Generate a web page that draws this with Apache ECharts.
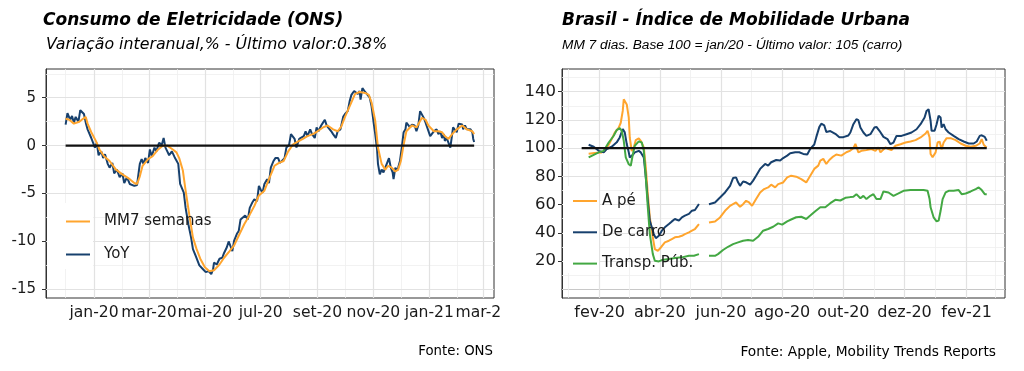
<!DOCTYPE html>
<html><head><meta charset="utf-8">
<script src="https://cdn.jsdelivr.net/npm/echarts@6/dist/echarts.min.js"></script>
<style>
html,body{margin:0;padding:0;background:#fff;width:1024px;height:371px;overflow:hidden}
#Lw{position:absolute;left:0;top:0;width:502px;height:371px;overflow:hidden}
#L{position:absolute;left:0;top:0;width:530px;height:371px}
#R{position:absolute;left:502px;top:0;width:522px;height:371px}
</style>
</head><body><div id="Lw"><div id="L"></div></div><div id="R"></div>
<script>
// ---------- DATA ----------
const monthNames = ['jan','fev','mar','abr','mai','jun','jul','ago','set','out','nov','dez'];

// Left: Consumo de Eletricidade (ONS), variação interanual %
const leftYoY = [
['2019-12-01',2.2],['2019-12-03',3.4],['2019-12-06',2.7],['2019-12-08',3.1],['2019-12-10',2.4],['2019-12-12',3.0],
['2019-12-15',2.5],['2019-12-17',3.7],['2019-12-19',3.8],['2019-12-21',3.3],['2019-12-23',2.4],['2019-12-25',1.7],
['2019-12-27',1.5],['2019-12-29',0.8],['2019-12-31',1.0],['2020-01-02',-0.2],['2020-01-04',0.3],['2020-01-06',-1.0],
['2020-01-09',-0.6],['2020-01-11',-1.3],['2020-01-13',-0.9],['2020-01-16',-1.9],['2020-01-18',-2.3],['2020-01-21',-1.8],
['2020-01-23',-2.9],['2020-01-26',-2.5],['2020-01-29',-3.3],['2020-02-01',-2.9],['2020-02-03',-3.9],['2020-02-06',-3.3],
['2020-02-09',-4.0],['2020-02-11',-3.9],['2020-02-14',-4.2],['2020-02-17',-4.1],['2020-02-19',-2.6],['2020-02-20',-1.9],
['2020-02-22',-1.4],['2020-02-24',-1.9],['2020-02-26',-1.3],['2020-02-29',-1.8],['2020-03-02',-0.4],['2020-03-04',-1.1],
['2020-03-07',-0.2],['2020-03-09',-0.6],['2020-03-12',0.3],['2020-03-15',0.1],['2020-03-17',0.8],['2020-03-19',-0.2],
['2020-03-21',-0.6],['2020-03-23',-1.0],['2020-03-26',-0.6],['2020-03-29',-1.2],['2020-03-31',-1.0],['2020-04-02',-1.9],
['2020-04-04',-4.0],['2020-04-06',-3.9],['2020-04-08',-4.9],['2020-04-10',-6.5],['2020-04-13',-8.2],['2020-04-16',-9.6],
['2020-04-18',-10.8],['2020-04-21',-11.5],['2020-04-25',-12.5],['2020-04-29',-12.9],['2020-05-02',-13.2],['2020-05-05',-13.1],
['2020-05-08',-13.4],['2020-05-10',-12.9],['2020-05-11',-12.2],['2020-05-14',-12.4],['2020-05-17',-11.8],['2020-05-20',-11.7],
['2020-05-22',-11.2],['2020-05-25',-10.6],['2020-05-27',-10.0],['2020-05-29',-10.5],['2020-05-31',-11.0],['2020-06-02',-9.9],
['2020-06-05',-9.2],['2020-06-07',-8.9],['2020-06-09',-7.7],['2020-06-11',-7.9],['2020-06-14',-7.3],['2020-06-17',-7.7],
['2020-06-19',-6.5],['2020-06-22',-5.9],['2020-06-24',-5.6],['2020-06-27',-5.8],['2020-06-29',-4.2],['2020-07-01',-4.6],
['2020-07-03',-4.9],['2020-07-05',-4.0],['2020-07-08',-3.5],['2020-07-10',-3.9],['2020-07-12',-2.3],['2020-07-15',-1.6],
['2020-07-17',-1.3],['2020-07-20',-1.3],['2020-07-22',-1.8],['2020-07-24',-1.8],['2020-07-27',-1.3],['2020-07-29',-0.2],
['2020-08-01',0.1],['2020-08-03',1.2],['2020-08-05',1.4],['2020-08-07',0.7],['2020-08-09',-0.2],['2020-08-12',0.7],
['2020-08-14',0.5],['2020-08-17',1.0],['2020-08-19',1.5],['2020-08-21',1.0],['2020-08-24',1.7],['2020-08-26',1.2],
['2020-08-29',0.8],['2020-08-31',1.9],['2020-09-02',1.5],['2020-09-05',2.1],['2020-09-07',2.4],['2020-09-09',2.7],
['2020-09-11',2.1],['2020-09-13',1.9],['2020-09-16',1.5],['2020-09-18',1.2],['2020-09-21',0.8],['2020-09-23',1.5],
['2020-09-26',1.7],['2020-09-29',3.0],['2020-10-01',3.3],['2020-10-04',3.6],['2020-10-06',4.6],['2020-10-08',5.3],
['2020-10-11',5.7],['2020-10-13',5.9],['2020-10-15',5.4],['2020-10-17',5.7],['2020-10-18',4.8],['2020-10-20',6.0],
['2020-10-23',5.6],['2020-10-25',5.5],['2020-10-28',5.0],['2020-10-30',4.1],['2020-11-01',2.6],['2020-11-03',1.2],
['2020-11-05',-0.4],['2020-11-06',-1.9],['2020-11-08',-3.0],['2020-11-10',-2.5],['2020-11-12',-2.8],['2020-11-14',-2.3],
['2020-11-16',-2.1],['2020-11-18',-1.3],['2020-11-20',-2.3],['2020-11-22',-2.8],['2020-11-23',-3.5],['2020-11-25',-2.3],
['2020-11-27',-2.6],['2020-11-28',-2.3],['2020-11-30',-1.6],['2020-12-02',-0.2],['2020-12-04',1.4],['2020-12-06',1.7],
['2020-12-07',2.4],['2020-12-09',2.6],['2020-12-11',1.9],['2020-12-13',2.2],['2020-12-16',2.1],['2020-12-18',1.5],
['2020-12-20',2.1],['2020-12-22',3.6],['2020-12-24',3.8],['2020-12-26',2.9],['2020-12-28',2.4],['2020-12-29',2.1],
['2020-12-31',2.2],['2021-01-02',1.0],['2021-01-04',0.8],['2021-01-06',1.5],['2021-01-07',1.4],['2021-01-09',1.7],
['2021-01-11',1.2],['2021-01-13',1.5],['2021-01-15',0.8],['2021-01-17',1.2],['2021-01-18',0.5],['2021-01-20',0.8],
['2021-01-22',0.3],['2021-01-24',-0.2],['2021-01-26',1.2],['2021-01-27',1.9],['2021-01-29',1.7],['2021-01-31',1.4],
['2021-02-02',2.3],['2021-02-04',2.1],['2021-02-06',2.2],['2021-02-07',1.7],['2021-02-09',2.1],['2021-02-11',1.7],
['2021-02-13',1.5],['2021-02-15',1.7],['2021-02-17',1.4],['2021-02-18',0.7],['2021-02-19',0.38]
];
const leftMM7 = [
['2019-12-01',2.8],['2019-12-05',2.7],['2019-12-10',2.3],['2019-12-16',2.5],['2019-12-20',2.8],['2019-12-23',3.0],
['2019-12-25',2.3],['2019-12-29',1.4],['2020-01-03',0.5],['2020-01-07',-0.4],['2020-01-12',-1.1],['2020-01-18',-1.6],
['2020-01-25',-2.5],['2020-02-01',-3.0],['2020-02-09',-3.5],['2020-02-14',-3.9],['2020-02-17',-4.0],['2020-02-20',-3.2],
['2020-02-23',-2.1],['2020-02-29',-1.4],['2020-03-05',-1.1],['2020-03-11',-0.4],['2020-03-16',0.0],['2020-03-21',0.0],
['2020-03-27',-0.4],['2020-03-31',-0.7],['2020-04-03',-1.3],['2020-04-07',-2.6],['2020-04-10',-4.7],['2020-04-14',-7.2],
['2020-04-18',-9.6],['2020-04-22',-10.8],['2020-04-26',-11.8],['2020-05-01',-12.7],['2020-05-06',-13.1],['2020-05-11',-13.0],
['2020-05-17',-12.4],['2020-05-22',-11.7],['2020-05-28',-11.0],['2020-06-02',-10.4],['2020-06-08',-9.2],['2020-06-13',-8.2],
['2020-06-19',-7.2],['2020-06-24',-6.3],['2020-06-29',-5.2],['2020-07-05',-4.7],['2020-07-10',-3.5],['2020-07-16',-2.1],
['2020-07-21',-1.8],['2020-07-26',-1.6],['2020-07-31',-0.6],['2020-08-05',0.1],['2020-08-10',0.4],['2020-08-16',0.7],
['2020-08-21',1.0],['2020-08-27',1.2],['2020-09-01',1.5],['2020-09-07',1.9],['2020-09-12',2.1],['2020-09-18',1.7],
['2020-09-23',1.5],['2020-09-27',2.0],['2020-10-01',3.0],['2020-10-07',4.3],['2020-10-12',5.4],['2020-10-17',5.6],
['2020-10-23',5.5],['2020-10-27',5.3],['2020-10-30',4.5],['2020-11-03',2.6],['2020-11-06',-0.2],['2020-11-10',-1.9],
['2020-11-14',-2.5],['2020-11-17',-2.1],['2020-11-21',-2.3],['2020-11-25',-2.7],['2020-11-28',-2.5],['2020-12-01',-1.6],
['2020-12-04',0.1],['2020-12-07',1.5],['2020-12-13',2.1],['2020-12-18',1.9],['2020-12-24',2.9],['2020-12-28',2.7],
['2020-12-31',2.1],['2021-01-06',1.5],['2021-01-11',1.5],['2021-01-15',1.4],['2021-01-18',1.0],['2021-01-22',0.7],
['2021-01-26',1.2],['2021-01-31',1.7],['2021-02-06',2.1],['2021-02-11',1.7],['2021-02-17',1.5],['2021-02-19',1.2]
];
const leftRef = [['2019-12-01',0],['2021-02-19',0]];
const leftXTicks = ['2020-01-01','2020-03-01','2020-05-01','2020-07-01','2020-09-01','2020-11-01','2021-01-01','2021-03-01'];
const leftXMinor = ['2019-12-01','2020-02-01','2020-04-01','2020-06-01','2020-08-01','2020-10-01','2020-12-01','2021-02-01'];
const leftYTicks = [-15,-10,-5,0,5];
const leftYMinor = [-12.5,-7.5,-2.5,2.5,7.5];

// Right: Brasil - Índice de Mobilidade Urbana (Apple), MM 7 dias
const rightApe = [
['2020-01-21',96],['2020-01-27',96.5],['2020-02-03',97],['2020-02-06',98],['2020-02-10',102.4],['2020-02-13',106.4],
['2020-02-16',111],['2020-02-20',114.6],['2020-02-22',118],['2020-02-24',126.4],['2020-02-25',134.6],['2020-02-26',135.8],
['2020-02-28',131],['2020-03-01',121.6],['2020-03-02',107.4],['2020-03-04',98],['2020-03-06',100.5],['2020-03-08',105.7],
['2020-03-11',107],['2020-03-13',105.2],['2020-03-16',100.5],['2020-03-18',86.3],['2020-03-20',67.4],['2020-03-22',50.9],
['2020-03-25',36.7],['2020-03-27',28.4],['2020-03-30',27.2],['2020-04-02',29.6],['2020-04-06',33.2],['2020-04-10',34.4],
['2020-04-13',35.6],['2020-04-16',36.8],['2020-04-20',37.2],['2020-04-23',37.9],['2020-04-26',39.1],['2020-04-30',40.3],
['2020-05-03',41.5],['2020-05-06',42.7],['2020-05-10',46.2],['2020-05-15','-'],
['2020-05-20',47.3],['2020-05-26',48],['2020-05-31',50.9],['2020-06-05',55.6],['2020-06-10',59.1],['2020-06-13',60.3],
['2020-06-16',61.5],['2020-06-20',58.4],['2020-06-23',60.3],['2020-06-26',62.7],['2020-06-29',61.5],['2020-07-02',59.1],
['2020-07-06',63.9],['2020-07-10',68.6],['2020-07-14',71],['2020-07-18',72.2],['2020-07-21',74.1],['2020-07-25',72.2],
['2020-07-28',74.5],['2020-08-02',75.7],['2020-08-06',79.3],['2020-08-10',80.5],['2020-08-15',79.8],['2020-08-20',78.1],
['2020-08-25',75.7],['2020-08-29',80.5],['2020-09-02',85.3],['2020-09-06',87.6],['2020-09-08',91.2],['2020-09-11',92.4],
['2020-09-14',88.8],['2020-09-17',91.6],['2020-09-20',93.6],['2020-09-24',95.5],['2020-09-29',94.7],['2020-10-04',97.1],
['2020-10-08',98.3],['2020-10-11',100],['2020-10-13',103],['2020-10-16',97],['2020-10-19',98.1],['2020-10-24',98.6],
['2020-10-29',99.3],['2020-11-02',98.1],['2020-11-05',100.5],['2020-11-07',97],['2020-11-12',100.5],['2020-11-15',99.3],
['2020-11-18',98.6],['2020-11-22',101.7],['2020-11-27',102.8],['2020-12-02',104],['2020-12-07',104.7],['2020-12-12',105.7],
['2020-12-17',107.6],['2020-12-22',110.4],['2020-12-24',112.3],['2020-12-26',107.6],['2020-12-27',95.9],['2020-12-29',93.6],
['2021-01-01',97],['2021-01-03',104],['2021-01-05',104.7],['2021-01-07',99.3],['2021-01-09',104],['2021-01-12',107.1],
['2021-01-16',107.1],['2021-01-21',105.7],['2021-01-26',103.3],['2021-01-31',101.7],['2021-02-05',101],['2021-02-10',101.7],
['2021-02-14',103.3],['2021-02-16',106.4],['2021-02-18',102.4],['2021-02-20',101],['2021-02-21',100.5]
];
const rightCarro = [
['2020-01-21',102.4],['2020-01-26',101],['2020-01-31',98.1],['2020-02-05',97],['2020-02-08',99.4],['2020-02-13',101],
['2020-02-18',104.1],['2020-02-21',107.6],['2020-02-24',113.5],['2020-02-26',111.2],['2020-02-28',102.9],['2020-03-01',97],
['2020-03-02',93.4],['2020-03-05',95.3],['2020-03-07',97],['2020-03-11',98.1],['2020-03-13',97],['2020-03-16',93.4],
['2020-03-18',79.3],['2020-03-20',62.7],['2020-03-22',48.5],['2020-03-26',39.1],['2020-03-28',36.2],['2020-03-31',37.9],
['2020-04-03',41.5],['2020-04-06',43.9],['2020-04-10',46.2],['2020-04-13',48.1],['2020-04-16',49.8],['2020-04-20',48.6],
['2020-04-23',51],['2020-04-26',52.2],['2020-04-30',53.4],['2020-05-03',55.7],['2020-05-06',56.2],['2020-05-10',60.4],
['2020-05-15','-'],
['2020-05-20',60.3],['2020-05-26',61.5],['2020-05-31',65],['2020-06-05',68.6],['2020-06-10',73.3],['2020-06-13',78.8],
['2020-06-16',79.3],['2020-06-18',75.8],['2020-06-20',73.3],['2020-06-23',76.4],['2020-06-26',75.8],['2020-06-30',74.1],
['2020-07-03',77],['2020-07-06',80.5],['2020-07-10',85.3],['2020-07-15',88.8],['2020-07-18',87.6],['2020-07-21',90],
['2020-07-26',91.6],['2020-07-30',91.2],['2020-08-02',93],['2020-08-06',94.7],['2020-08-09',96.4],['2020-08-14',97.1],
['2020-08-18',97.1],['2020-08-22',95.9],['2020-08-26',95.5],['2020-08-29',99.5],['2020-09-02',102.6],['2020-09-04',107.8],
['2020-09-07',114.9],['2020-09-09',117.3],['2020-09-12',116.1],['2020-09-14',111.4],['2020-09-18',112.1],['2020-09-23',110.2],
['2020-09-27',107.8],['2020-10-01',107.8],['2020-10-06',109],['2020-10-08',111.1],['2020-10-11',117],['2020-10-14',120.5],
['2020-10-16',119.8],['2020-10-18',114.6],['2020-10-21',111.1],['2020-10-24',108.7],['2020-10-28',109.9],['2020-11-01',114.6],
['2020-11-03',115.1],['2020-11-06',112.3],['2020-11-10',108],['2020-11-14',106.4],['2020-11-17',102.8],['2020-11-20',104],
['2020-11-23',108.7],['2020-11-28',108.7],['2020-12-03',109.9],['2020-12-08',111.1],['2020-12-13',113.4],['2020-12-17',117],
['2020-12-21',121.7],['2020-12-23',126.4],['2020-12-25',127.6],['2020-12-27',119.4],['2020-12-28',112.3],['2020-12-31',112.3],
['2021-01-02',117],['2021-01-04',122.9],['2021-01-06',121.7],['2021-01-07',114.6],['2021-01-09',117],['2021-01-11',113.4],
['2021-01-14',111.1],['2021-01-19',108.7],['2021-01-24',106.4],['2021-01-29',104.7],['2021-02-03',103.3],['2021-02-08',103.3],
['2021-02-11',104.7],['2021-02-14',108.7],['2021-02-16',109.1],['2021-02-19',108],['2021-02-21',105.2]
];
const rightTransp = [
['2020-01-21',93.4],['2020-01-26',95.3],['2020-01-31',97],['2020-02-05',98.1],['2020-02-10',104],['2020-02-15',108.8],
['2020-02-18',112.8],['2020-02-21',114.2],['2020-02-23',112.3],['2020-02-25',105.2],['2020-02-27',93.4],['2020-03-01',88.6],
['2020-03-03',87.5],['2020-03-05',95.3],['2020-03-07',101.7],['2020-03-11',104.8],['2020-03-14',104],['2020-03-16',98.1],
['2020-03-18',79.3],['2020-03-20',58],['2020-03-22',39.1],['2020-03-25',24.9],['2020-03-27',20.2],['2020-03-31',19.7],
['2020-04-03',20.7],['2020-04-10',21.4],['2020-04-16',22.1],['2020-04-23',22.6],['2020-04-30',23.8],['2020-05-05',23.8],
['2020-05-10',24.9],['2020-05-15','-'],
['2020-05-20',23.7],['2020-05-26',23.7],['2020-05-29',24.9],['2020-06-03',27.8],['2020-06-08',30.1],['2020-06-13',32],
['2020-06-18',33.2],['2020-06-23',34.4],['2020-06-28',34.9],['2020-07-03',34.4],['2020-07-08',37.2],['2020-07-13',41.5],
['2020-07-18',42.7],['2020-07-23',44.3],['2020-07-28',46.7],['2020-08-01',45.8],['2020-08-06',48.1],['2020-08-11',49.8],
['2020-08-15',51],['2020-08-20',51.4],['2020-08-25',49.8],['2020-08-29',52.2],['2020-09-03',55.3],['2020-09-08',58.1],
['2020-09-13',58.1],['2020-09-18',61],['2020-09-23',63.4],['2020-09-28',62.9],['2020-10-03',64.8],['2020-10-08',65.3],
['2020-10-11',65.5],['2020-10-14',67.4],['2020-10-18',64.5],['2020-10-21',66.2],['2020-10-24',63.9],['2020-10-28',66.2],
['2020-10-31',67.4],['2020-11-03',63.9],['2020-11-07',63.9],['2020-11-10',69.3],['2020-11-15',68.6],['2020-11-20',66.2],
['2020-11-25',67.9],['2020-11-30',69.8],['2020-12-07',70.3],['2020-12-13',70.3],['2020-12-20',70.3],['2020-12-24',69.8],
['2020-12-26',63.9],['2020-12-27',58.1],['2020-12-30',51],['2021-01-02',48.1],['2021-01-04',48.6],['2021-01-06',55.6],
['2021-01-08',63.9],['2021-01-11',68.6],['2021-01-14',69.8],['2021-01-19',69.8],['2021-01-24',70.3],['2021-01-27',67.4],
['2021-01-31',67.9],['2021-02-05',69.3],['2021-02-10',71],['2021-02-13',72.2],['2021-02-16',70.3],['2021-02-19',67.4],
['2021-02-21',67.4]
];
const rightRef = [['2020-01-14',100],['2021-02-21',100]];
const rightXTicks = ['2020-02-01','2020-04-01','2020-06-01','2020-08-01','2020-10-01','2020-12-01','2021-02-01'];
const rightXMinor = ['2020-01-01','2020-03-01','2020-05-01','2020-07-01','2020-09-01','2020-11-01','2021-01-01','2021-03-01'];
const rightYTicks = [20,40,60,80,100,120,140];
const rightYMinor = [0,10,30,50,70,90,110,130,150];

// ---------- STYLE ----------
const FONT = '"DejaVu Sans", "Liberation Sans", sans-serif';
const FONT2 = '"Liberation Sans", Arial, sans-serif';
const C_ORANGE = '#FFA52E', C_BLUE = '#17406D', C_GREEN = '#43A843', C_REF = '#111111';
const TXT = '#1a1a1a';

function toTs(s){ return new Date(s.length > 10 ? s : s + 'T00:00:00').getTime(); }
function pts(arr){ return arr.map(p => [toTs(p[0]), p[1]]); }
function fmtMonth(v){ const d = new Date(v); return monthNames[d.getMonth()] + '-' + String(d.getFullYear()).slice(2); }

function gridSeries(ref, xMaj, xMin, yMaj, yMin){
  const maj = {color:'#e2e2e2', width:1.2, type:'solid'};
  const mnr = {color:'#efefef', width:0.8, type:'solid'};
  const d = [];
  xMin.forEach(v => d.push({xAxis: toTs(v), lineStyle: mnr}));
  yMin.forEach(v => d.push({yAxis: v, lineStyle: mnr}));
  xMaj.forEach(v => d.push({xAxis: toTs(v), lineStyle: maj}));
  yMaj.forEach(v => d.push({yAxis: v, lineStyle: maj}));
  return {type:'line', data: pts(ref), z:1, silent:true, symbol:'none', lineStyle:{opacity:0},
    markLine:{z:1, silent:true, symbol:['none','none'], label:{show:false}, animation:false, emphasis:{disabled:true}, data:d}};
}
function line(name, data, color, z){
  return {name, type:'line', data: pts(data), symbol:'none', showSymbol:false, z, silent:true, connectNulls:false,
    lineStyle:{color, width:2}, itemStyle:{color}, emphasis:{disabled:true}};
}
function xAxisOpt(min, max, ticks, fs){
  const tv = ticks.map(toTs);
  return {type:'value', min: toTs(min), max: toTs(max), scale:true, splitLine:{show:false},
    axisLine:{show:true, lineStyle:{color:'#333', width:1}},
    axisTick:{show:true, customValues: tv, length:4, lineStyle:{color:'#333', width:1}},
    axisLabel:{customValues: tv, formatter: fmtMonth, fontFamily: FONT, fontSize: fs, color: TXT, margin: 7,
      hideOverlap:false, showMinLabel:true, showMaxLabel:true}};
}
function yAxisOpt(min, max, ticks, fs, margin){
  return {type:'value', min, max, splitLine:{show:false},
    axisLine:{show:true, lineStyle:{color:'#333', width:1}},
    axisTick:{show:true, customValues: ticks, length:4, lineStyle:{color:'#333', width:1}},
    axisLabel:{customValues: ticks, fontFamily: FONT, fontSize: fs, color: TXT, margin, showMinLabel:true, showMaxLabel:true}};
}
function txt(x, y, text, font, align){
  return {type:'text', x, y, silent:true, z:10,
    style:{text, font, fill:'#000', align: align || 'left', verticalAlign:'middle'}};
}
function legendOpt(left, top, gap, names, pad){
  return {orient:'vertical', left, top, padding:0, itemWidth:24, itemHeight:14, itemGap:gap, selectedMode:false,
    itemStyle:{opacity:0}, data:names, textStyle:{fontFamily:FONT, fontSize:15, color:TXT, padding:[0,0,0,pad]}};
}

// ---------- LEFT ----------
const chartL = echarts.init(document.getElementById('L'), null, {renderer:'canvas'});
chartL.setOption({
  animation:false,
  grid:{left:46, top:69, width:448, height:229, show:true, borderColor:'#333', borderWidth:1, backgroundColor:'#fff', containLabel:false},
  xAxis: xAxisOpt('2019-11-09T14:00:00', '2021-03-12T16:00:00', leftXTicks, 15.6),
  yAxis: yAxisOpt(-15.9, 8.0, leftYTicks, 15, 10),
  legend: legendOpt(65, 214, 18, ['MM7 semanas','YoY'], 9),
  graphic:[
    {type:'rect', shape:{x:47, y:203, width:46, height:66}, style:{fill:'#fff'}, z:2, silent:true},
    txt(43, 21, 'Consumo de Eletricidade (ONS)', 'italic bold 17px ' + FONT),
    txt(46, 44.5, 'Variação interanual,% - Último valor:0.38%', 'italic 15.8px ' + FONT),
    txt(493, 352, 'Fonte: ONS', '13.3px ' + FONT, 'right')
  ],
  series:[
    gridSeries(leftRef, leftXTicks, leftXMinor, leftYTicks, leftYMinor),
    line('YoY', leftYoY, C_BLUE, 3),
    line('MM7 semanas', leftMM7, C_ORANGE, 3),
    {type:'line', data:pts(leftRef), symbol:'none', z:4, silent:true, lineStyle:{color:C_REF, width:2.2}, emphasis:{disabled:true}}
  ]
});

// ---------- RIGHT ----------
const chartR = echarts.init(document.getElementById('R'), null, {renderer:'canvas'});
chartR.setOption({
  animation:false,
  grid:{left:60, top:69, width:443, height:229, show:true, borderColor:'#333', borderWidth:1, backgroundColor:'#fff', containLabel:false},
  xAxis: xAxisOpt('2019-12-25T10:00:00', '2021-03-11T05:00:00', rightXTicks, 16),
  yAxis: yAxisOpt(-6.2, 156.1, rightYTicks, 16.5, 6),
  legend: legendOpt(70, 193.5, 16.3, ['A pé','De carro','Transp. Púb.'], 0),
  graphic:[
    {type:'rect', shape:{x:61, y:186, width:36, height:87}, style:{fill:'#fff'}, z:2, silent:true},
    txt(60, 21, 'Brasil - Índice de Mobilidade Urbana', 'italic bold 17px ' + FONT),
    txt(60, 45, 'MM 7 dias. Base 100 = jan/20 - Último valor: 105 (carro)', 'italic 13.7px ' + FONT2),
    txt(494, 352, 'Fonte: Apple, Mobility Trends Reports', '13.75px ' + FONT, 'right')
  ],
  series:[
    gridSeries(rightRef, rightXTicks, rightXMinor, rightYTicks, rightYMinor),
    line('A pé', rightApe, C_ORANGE, 3),
    line('De carro', rightCarro, C_BLUE, 3),
    line('Transp. Púb.', rightTransp, C_GREEN, 3),
    {type:'line', data:pts(rightRef), symbol:'none', z:4, silent:true, lineStyle:{color:C_REF, width:2.2}, emphasis:{disabled:true}}
  ]
});
</script></body></html>
